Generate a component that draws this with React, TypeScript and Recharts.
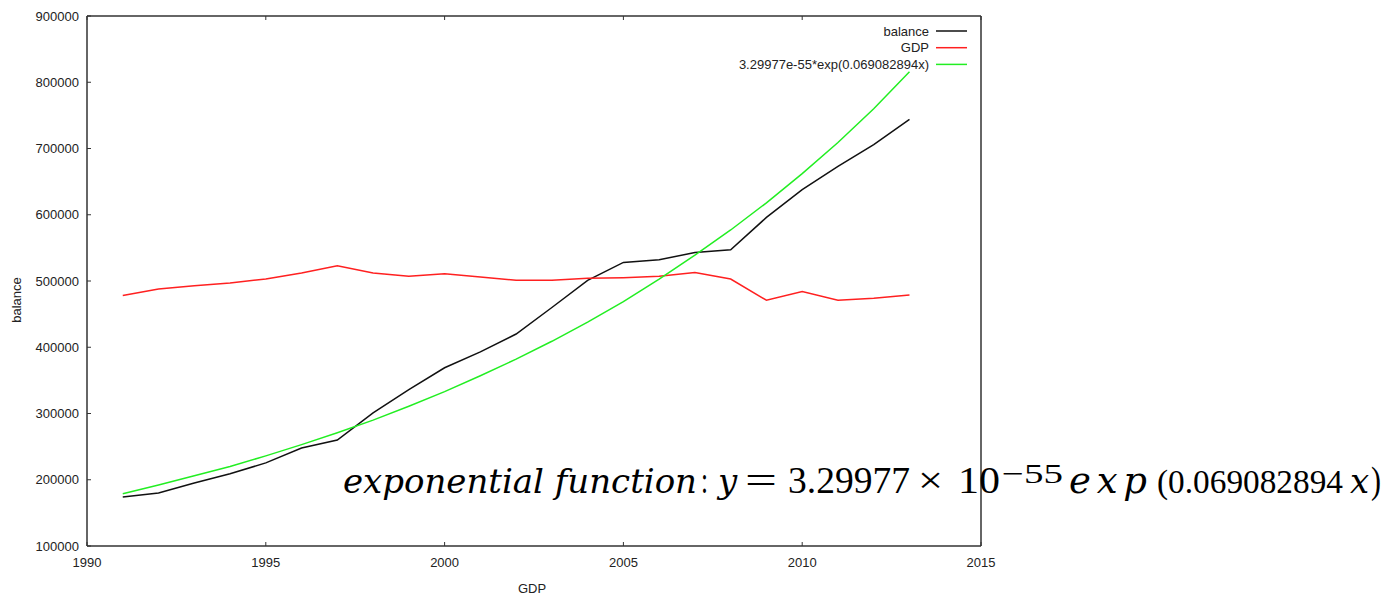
import React from 'react';
import { LineChart, Line, XAxis, YAxis } from 'recharts';

// yearly series, 1991-2013
const years = [
  1991, 1992, 1993, 1994, 1995, 1996, 1997, 1998, 1999, 2000, 2001, 2002,
  2003, 2004, 2005, 2006, 2007, 2008, 2009, 2010, 2011, 2012, 2013,
];
const balance = [
  174000, 180000, 195000, 209000, 225500, 248000, 260000, 301000, 336000, 369000, 393000, 420000,
  460000, 501000, 528000, 532000, 543000, 547000, 596000, 638000, 673000, 706000, 744000,
];
const gdp = [
  478000, 488000, 493000, 497000, 503000, 512000, 523000, 512000, 507000, 511000, 506000, 501000,
  501000, 504000, 505000, 507000, 513000, 503000, 471000, 484000, 471000, 474000, 479000,
];
const expFit = [
  179000, 192000, 206000, 220000, 236000, 253000, 271000, 290000, 311000, 333000, 357000, 382000,
  409000, 438000, 469000, 503000, 539000, 577000, 618000, 662000, 709000, 760000, 816000,
];

const xTicks = [1990, 1995, 2000, 2005, 2010, 2015];
const yTicks = [100000, 200000, 300000, 400000, 500000, 600000, 700000, 800000, 900000];

const data = years.map((year, i) => ({
  year,
  balance: balance[i],
  gdp: gdp[i],
  fit: expFit[i],
}));

const series = [
  { key: 'balance', name: 'balance', color: '#111' },
  { key: 'gdp', name: 'GDP', color: '#ff2020' },
  { key: 'fit', name: '3.29977e-55*exp(0.069082894x)', color: '#22ee22' },
];

const FONT = '"Liberation Sans", Arial, sans-serif';
const SERIF = '"Liberation Serif", serif';
const SERIF_IT = '"DejaVu Serif", "Liberation Serif", serif';
const AXIS = '#333';
const TICK = 4;
const FS = 13;

const BottomTick = (props: any) => {
  const { x, y, payload } = props;
  return (
    <g>
      <line x1={x} y1={y} x2={x} y2={y - TICK} stroke={AXIS} />
      <text x={x} y={y + 21} textAnchor="middle" fontFamily={FONT} fontSize={FS} fill="#222">
        {payload.value}
      </text>
    </g>
  );
};

const LeftTick = (props: any) => {
  const { x, y, payload } = props;
  return (
    <g>
      <line x1={x} y1={y} x2={x + TICK} y2={y} stroke={AXIS} />
      <text x={x - 8} y={y + 4.5} textAnchor="end" fontFamily={FONT} fontSize={FS} fill="#222">
        {payload.value}
      </text>
    </g>
  );
};

const TopTick = (props: any) => {
  const { x, y } = props;
  return <line x1={x} y1={y} x2={x} y2={y + TICK} stroke={AXIS} />;
};

const RightTick = (props: any) => {
  const { x, y } = props;
  return <line x1={x} y1={y} x2={x - TICK} y2={y} stroke={AXIS} />;
};

// pieces of the equation: text, left edge, width (0 = natural), italic, baseline shift, size
const eqParts: [string, number, number, boolean, number, number][] = [
  ['exponential function', 343, 354, true, 0, 34],
  [':', 701, 7, false, 0, 38],
  ['y', 718, 0, true, 0, 34],
  ['=', 745, 32, false, 0, 38],
  ['3.29977', 788, 122, false, 0, 38],
  ['×', 918, 25, false, 0, 38],
  ['10', 958, 42, false, 0, 38],
  ['−55', 1002, 61, false, -10, 28],
  ['exp', 1069, 78, true, 0, 37],
  ['(0.069082894', 1157, 186, false, 0, 34],
  ['x', 1350, 0, true, 0, 34],
  [')', 1371, 10, false, 0, 38],
];

export default function App() {
  return (
    <div style={{ position: 'absolute', left: 0, top: 0, width: 1399, height: 599, overflow: 'hidden', background: '#fff' }}>
      <LineChart
        width={1399}
        height={599}
        data={data}
        margin={{ top: 15, right: 417, bottom: 23, left: 7 }}
      >
        <XAxis
          xAxisId="b"
          dataKey="year"
          type="number"
          domain={[1990, 2015]}
          ticks={xTicks}
          height={30}
          tickSize={0}
          tickMargin={0}
          tickLine={false}
          axisLine={{ stroke: AXIS, strokeWidth: 1.5 }}
          tick={<BottomTick />}
          interval={0}
        />
        <XAxis
          xAxisId="t"
          orientation="top"
          dataKey="year"
          type="number"
          domain={[1990, 2015]}
          ticks={xTicks}
          height={1}
          tickSize={0}
          tickMargin={0}
          tickLine={false}
          axisLine={{ stroke: AXIS, strokeWidth: 1.5 }}
          tick={<TopTick />}
          interval={0}
        />
        <YAxis
          yAxisId="l"
          type="number"
          domain={[100000, 900000]}
          ticks={yTicks}
          width={80}
          tickSize={0}
          tickMargin={0}
          tickLine={false}
          axisLine={{ stroke: AXIS, strokeWidth: 1.5 }}
          tick={<LeftTick />}
          interval={0}
        />
        <YAxis
          yAxisId="r"
          orientation="right"
          type="number"
          domain={[100000, 900000]}
          ticks={yTicks}
          width={1}
          tickSize={0}
          tickMargin={0}
          tickLine={false}
          axisLine={{ stroke: AXIS, strokeWidth: 1.5 }}
          tick={<RightTick />}
          interval={0}
        />
        {series.map((s) => (
          <Line
            key={s.key}
            xAxisId="b"
            yAxisId="l"
            type="linear"
            dataKey={s.key}
            name={s.name}
            stroke={s.color}
            strokeWidth={1.5}
            dot={false}
            isAnimationActive={false}
          />
        ))}
      </LineChart>

      {/* key, axis titles and the fitted-curve equation */}
      <svg width={1399} height={599} style={{ position: 'absolute', left: 0, top: 0, pointerEvents: 'none' }}>
        {series.map((s, i) => {
          const cy = 31 + i * 16.7;
          return (
            <g key={s.key}>
              <text x={929} y={cy + 4.5} textAnchor="end" fontFamily={FONT} fontSize={FS} fill="#222">
                {s.name}
              </text>
              <line x1={936} y1={cy} x2={967} y2={cy} stroke={s.color} strokeWidth={1.5} />
            </g>
          );
        })}
        <text
          x={21}
          y={300}
          transform="rotate(-90 21 300)"
          textAnchor="middle"
          fontFamily={FONT}
          fontSize={FS}
          fill="#222"
        >
          balance
        </text>
        <text x={532} y={593} textAnchor="middle" fontFamily={FONT} fontSize={FS} fill="#222">
          GDP
        </text>
        {eqParts.map(([t, x, w, it, dy, fs]) => (
          <text
            key={t}
            x={x}
            y={493 + dy}
            textLength={w || undefined}
            lengthAdjust={it ? 'spacing' : 'spacingAndGlyphs'}
            fontFamily={it ? SERIF_IT : SERIF}
            fontStyle={it ? 'italic' : 'normal'}
            fontSize={fs}
            fill="#000"
          >
            {t}
          </text>
        ))}
      </svg>
    </div>
  );
}
